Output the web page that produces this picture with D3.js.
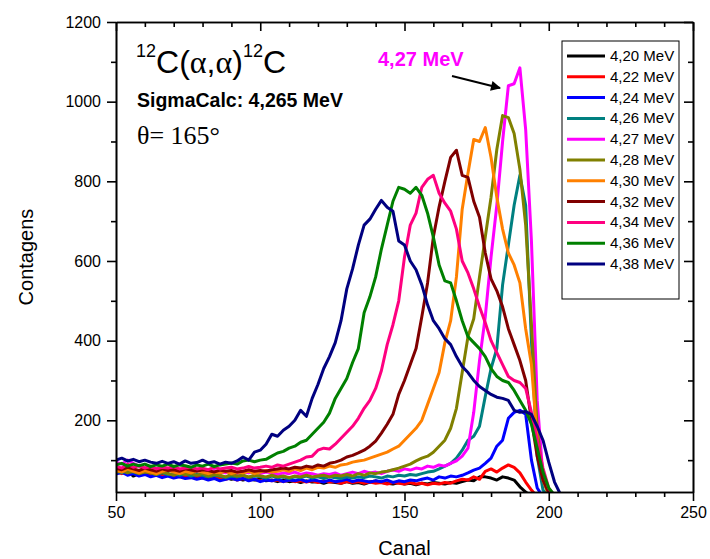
<!DOCTYPE html>
<html><head><meta charset="utf-8">
<script src="https://cdn.jsdelivr.net/npm/d3@7"></script>
<style>body{margin:0;background:#fff}svg{display:block}</style>
</head><body><svg id="c" width="710" height="559"></svg>
<script>
// ---- data ----
const channels=[50,52,54,56,58,60,62,64,66,68,70,72,74,76,78,80,82,84,86,88,90,92,94,96,98,100,102,104,106,108,110,112,114,116,118,120,122,124,126,128,130,132,134,136,138,140,142,144,146,148,150,152,154,156,158,160,162,164,166,168,170,172,174,176,178,180,182,184,186,188,190,192,194,196,198,200,202,204,206];
const energyLabels=["4,20 MeV","4,22 MeV","4,24 MeV","4,26 MeV","4,27 MeV","4,28 MeV","4,30 MeV","4,32 MeV","4,34 MeV","4,36 MeV","4,38 MeV"];
const seriesColors=["#000000","#FF0000","#0000FF","#008080","#FF00FF","#808000","#FF8000","#800000","#FF0080","#008000","#000080"];
const e420=[72,68,74,60,66,70,64,68,62,66, 60,64,58,62,56,60,55,58,54,56, 52,55,50,54,50,52,48,50,46,50, 46,48,44,48,45,46,42,46,44,42, 46,42,44,40,45,48,44,42,40,44, 40,42,38,42,40,44,42,40,44,42, 46,50,48,58,58,55,50,58,55,50, 33,20,8,3,2,2,2,2,2];
const e422=[70,66,72,68,64,68,62,66,60,64, 60,58,62,56,60,55,58,54,56,52, 56,50,54,50,52,48,52,48,50,46, 50,46,48,45,48,44,48,45,46,42, 46,44,46,42,45,42,44,40,44,42, 40,44,40,42,38,42,40,44,42,48, 52,50,58,52,72,78,70,80,88,82, 68,45,25,8,3,2,2,2,2];
const e424=[65,70,62,66,60,64,58,62,56,60, 55,58,54,56,52,55,50,54,48,52, 55,50,54,48,52,46,50,48,52,46, 50,48,52,46,50,48,45,50,46,48, 52,46,50,48,45,48,46,50,44,48, 46,50,48,52,55,50,58,55,60,58, 62,68,75,80,92,105,135,150,205,220, 225,215,100,30,8,3,2,2,2];
const e426=[72,68,74,70,66,72,68,64,68,64, 66,62,66,60,64,62,58,62,60,56, 60,58,62,56,60,58,55,60,56,58, 54,58,56,60,55,58,54,58,56,54, 58,55,58,56,60,58,55,60,58,62, 60,64,62,66,70,72,78,85,92,105, 125,150,160,185,260,330,380,540,640,740, 815,740,400,110,25,8,3,2,2];
const e427=[95,90,100,92,85,80,84,78,82,76, 80,74,78,72,76,72,70,74,70,68, 72,66,70,68,72,66,70,68,64,68, 66,70,64,68,66,62,66,64,68,62, 66,70,66,72,68,70,66,72,75,72, 78,75,80,78,85,82,88,85,92,98, 110,130,220,350,460,610,740,900,1040,1045, 1085,930,650,250,60,15,5,2,2];
const e428=[70,74,68,72,66,70,68,64,70,66, 62,68,64,66,62,66,60,64,62,58, 64,60,62,58,62,60,58,62,58,60, 56,60,58,62,58,60,62,58,62,60, 64,60,66,62,68,66,70,72,76,80, 85,90,98,105,110,120,135,150,180,230, 320,410,455,560,660,760,880,965,960,920, 830,690,440,180,50,12,4,2,2];
const e430=[75,70,78,72,68,74,70,66,72,75, 70,66,72,68,74,70,66,70,68,72, 66,70,68,72,66,70,74,70,72,76, 72,78,74,80,76,82,80,85,82,88, 90,95,98,100,105,110,115,120,128,135, 150,165,180,200,240,280,320,395,450,560, 730,820,905,900,935,860,760,680,620,590, 545,430,340,150,50,15,5,3,2];
const e432=[80,76,82,78,74,80,76,72,78,74, 76,72,78,75,72,76,74,70,75,72, 74,70,72,76,72,74,72,76,78,80, 78,82,80,85,82,88,85,92,95,100, 108,112,118,125,135,148,168,190,215,265, 300,340,380,460,545,660,736,800,860,878, 815,810,750,710,620,555,525,485,430,390, 350,300,200,110,50,18,6,3,2];
const e434=[85,80,90,82,86,80,84,78,82,80, 84,78,80,82,78,80,76,82,78,80, 82,78,80,84,80,82,85,82,88,85, 90,95,100,108,110,125,130,128,140,155, 170,185,205,230,250,280,325,390,440,500, 610,690,720,785,805,815,770,745,725,680, 600,570,530,485,445,400,370,340,310,300, 295,280,220,150,80,30,10,5,3];
const e436=[88,92,85,90,86,90,84,88,85,90, 84,88,86,82,88,85,90,84,88,90, 93,90,98,100,96,100,102,110,118,122, 130,135,145,150,165,180,195,218,255,280, 305,345,380,470,510,560,630,690,750,785, 780,770,785,765,720,660,590,550,545,500, 450,410,395,380,360,330,310,300,295,275, 250,225,190,130,70,30,12,5,3];
const e438=[100,105,98,102,96,100,95,92,97,92, 96,90,98,92,94,100,93,96,90,95, 92,98,108,100,120,125,140,165,160,175, 185,200,225,210,255,290,330,360,395,450, 530,580,640,690,705,730,752,735,725,650, 640,600,578,540,490,450,430,405,390,360, 335,320,300,285,275,265,258,255,250,225, 220,222,215,185,150,95,45,15,5];
const seriesValues=[e420,e422,e424,e426,e427,e428,e430,e432,e434,e436,e438];
const xMajorTicks=[50,100,150,200,250];
const yMajorTicks=[200,400,600,800,1000,1200];

// ---- chart ----
const svg=d3.select("#c");
const L=116,R=693,T=22,B=492;
const x=d3.scaleLinear().domain([50,250]).range([L,R]);
const y=d3.scaleLinear().domain([20,1200]).range([B,T]);
const xMinor=d3.range(50,251,10).filter(v=>v%50!==0);
const yMinor=d3.range(100,1201,100).filter(v=>v%200!==0);
const FONT="'Liberation Sans', Arial, sans-serif";
const SERIF="'Liberation Serif', 'Times New Roman', serif";

svg.append("defs").append("clipPath").attr("id","clip")
  .append("rect").attr("x",L).attr("y",T).attr("width",R-L).attr("height",B-T);

// lines
const line=d3.line().x((d,i)=>x(channels[i])).y(d=>y(d));
const lg=svg.append("g").attr("clip-path","url(#clip)");
seriesValues.forEach((vals,k)=>{
  lg.append("path").datum(vals).attr("d",line).attr("fill","none")
    .attr("stroke",seriesColors[k]).attr("stroke-width",3)
    .attr("stroke-linejoin","round").attr("stroke-linecap","round");
});

function styleAxis(g){
  g.selectAll("path.domain").attr("stroke","#000").attr("stroke-width",1.6);
  g.selectAll(".tick line").attr("stroke","#000").attr("stroke-width",1.6);
  g.selectAll("text").attr("font-family",FONT).attr("font-size",16).attr("fill","#000");
}
// bottom
const gb=svg.append("g").attr("transform",`translate(0,${B})`)
  .call(d3.axisBottom(x).tickValues(xMajorTicks).tickSize(9).tickSizeOuter(0).tickPadding(6).tickFormat(d3.format("d")));
styleAxis(gb);
const gbm=svg.append("g").attr("transform",`translate(0,${B})`)
  .call(d3.axisBottom(x).tickValues(xMinor).tickSize(5).tickSizeOuter(0).tickFormat(""));
styleAxis(gbm);
// left
const gl=svg.append("g").attr("transform",`translate(${L},0)`)
  .call(d3.axisLeft(y).tickValues(yMajorTicks).tickSize(9).tickSizeOuter(0).tickPadding(6).tickFormat(d3.format("d")));
styleAxis(gl);
const glm=svg.append("g").attr("transform",`translate(${L},0)`)
  .call(d3.axisLeft(y).tickValues(yMinor).tickSize(5).tickSizeOuter(0).tickFormat(""));
styleAxis(glm);
// top (inward)
const gt=svg.append("g").attr("transform",`translate(0,${T})`)
  .call(d3.axisTop(x).tickValues(xMajorTicks).tickSize(-9).tickSizeOuter(0).tickFormat(""));
styleAxis(gt);
const gtm=svg.append("g").attr("transform",`translate(0,${T})`)
  .call(d3.axisTop(x).tickValues(xMinor).tickSize(-5).tickSizeOuter(0).tickFormat(""));
styleAxis(gtm);
// right (inward)
const gr=svg.append("g").attr("transform",`translate(${R},0)`)
  .call(d3.axisRight(y).tickValues(yMajorTicks).tickSize(-9).tickSizeOuter(0).tickFormat(""));
styleAxis(gr);
const grm=svg.append("g").attr("transform",`translate(${R},0)`)
  .call(d3.axisRight(y).tickValues(yMinor).tickSize(-5).tickSizeOuter(0).tickFormat(""));
styleAxis(grm);

// axis titles
svg.append("text").attr("x",(L+R)/2).attr("y",555).attr("text-anchor","middle")
  .attr("font-family",FONT).attr("font-size",20).text("Canal");
svg.append("text").attr("transform",`translate(33,${(T+B)/2}) rotate(-90)`).attr("text-anchor","middle")
  .attr("font-family",FONT).attr("font-size",20).text("Contagens");

// title annotation 12C(α,α)12C
const t=svg.append("text").attr("x",136).attr("y",73).attr("font-family",FONT).attr("font-size",32);
t.append("tspan").attr("font-size",18).attr("dy",-16).text("12");
t.append("tspan").attr("dy",16).text("C(");
t.append("tspan").attr("font-family",SERIF).text("α");
t.append("tspan").text(",");
t.append("tspan").attr("font-family",SERIF).text("α");
t.append("tspan").text(")");
t.append("tspan").attr("font-size",18).attr("dy",-16).text("12");
t.append("tspan").attr("dy",16).text("C");

svg.append("text").attr("x",137).attr("y",107).attr("font-family",FONT).attr("font-size",19.5)
  .attr("font-weight","bold").text("SigmaCalc: 4,265 MeV");
svg.append("text").attr("x",137).attr("y",144).attr("font-family",SERIF)
  .attr("font-size",26).text("θ= 165°");

// 4,27 MeV annotation + arrow
svg.append("text").attr("x",378).attr("y",66).attr("font-family",FONT).attr("font-size",20)
  .attr("font-weight","bold").attr("fill","#FF00FF").text("4,27 MeV");
svg.select("defs").append("marker").attr("id","ah").attr("viewBox","0 0 10 10").attr("refX",9).attr("refY",5)
  .attr("markerWidth",12).attr("markerHeight",10).attr("markerUnits","userSpaceOnUse").attr("orient","auto")
  .append("path").attr("d","M0,0 L10,5 L0,10 Z").attr("fill","#000");
svg.append("line").attr("x1",452).attr("y1",76).attr("x2",500).attr("y2",88)
  .attr("stroke","#000").attr("stroke-width",2).attr("marker-end","url(#ah)");

// legend
const lgd=svg.append("g");
lgd.append("rect").attr("x",562).attr("y",41).attr("width",117).attr("height",258)
  .attr("fill","#fff").attr("stroke","#000").attr("stroke-width",1);
energyLabels.forEach((lab,k)=>{
  const yy=56+k*20.8;
  lgd.append("line").attr("x1",567).attr("x2",605).attr("y1",yy).attr("y2",yy)
    .attr("stroke",seriesColors[k]).attr("stroke-width",3);
  lgd.append("text").attr("x",610).attr("y",yy+5).attr("font-family",FONT).attr("font-size",15).text(lab);
});
</script></body></html>
